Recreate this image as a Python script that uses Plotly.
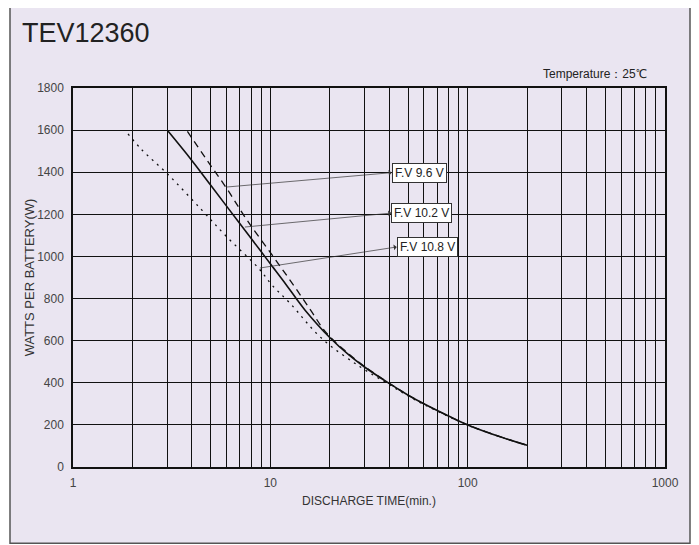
import plotly.graph_objects as go
import math

# ---- data ----
t_96 = [3.8, 4.76, 6.0, 7.6, 10.35, 13.1, 16, 19.3, 25, 30, 40, 50, 60, 80, 100, 150, 200]
w_96 = [1594, 1459, 1324, 1174, 999, 864, 745, 635, 537, 478, 398, 341, 300, 242, 200, 140, 103]

t_102 = [3, 4, 5, 6, 7, 8, 9, 10, 12, 13.6, 15, 20, 25, 30, 40, 50, 60, 80, 100, 150, 200]
w_102 = [1600, 1456, 1337, 1239, 1157, 1085, 1022, 965, 867, 797, 745, 615, 532, 475, 397, 341, 300, 242, 200, 140, 103]

t_108 = [1.9, 2.23, 3.04, 4.49, 6.0, 8.7, 10.2, 12.6, 18.2, 28.5, 40, 50, 60, 80, 100, 150, 200]
w_108 = [1582, 1507, 1388, 1221, 1094, 945, 864, 777, 611, 476, 392, 337, 297, 240, 199, 140, 103]

labels = ["F.V 9.6 V", "F.V 10.2 V", "F.V 10.8 V"]
label_from_t = [5.9, 7.3, 8.7]          # arrow tail on curve (min)
label_from_w = [1329, 1139, 944]        # arrow tail on curve (W)
label_to_t = [41.2, 41.0, 43.7]         # arrow head at box (min)
label_to_w = [1398, 1206, 1045]         # arrow head at box (W)

x_ticks = [d * m for d in (1, 10, 100) for m in range(1, 10)] + [1000]
x_ticktext = [str(v) if v in (1, 10, 100, 1000) else "" for v in x_ticks]
y_ticks = list(range(0, 1801, 200))

# ---- layout helpers (page has an 8px body margin) ----
OFF = 8
W, H = 699 - OFF, 545 - OFF
L, T, PW, PH = 73 - OFF, 88 - OFF, 592, 378.7
R = W - L - PW
B = H - T - PH


def px(xw):
    return (xw - OFF - L) / PW


def py(yw):
    return (T + PH - (yw - OFF)) / PH


bg = "#EAE5F1"
FONT = "Liberation Sans, Arial, Helvetica"

fig = go.Figure()
fig.add_trace(go.Scatter(x=t_108, y=w_108, mode="lines", line=dict(color="#111", width=1.3, dash="2px,5px"),
                         line_shape="spline", showlegend=False))
fig.add_trace(go.Scatter(x=t_96, y=w_96, mode="lines", line=dict(color="#111", width=1.3, dash="7px,5px"),
                         line_shape="spline", showlegend=False))
fig.add_trace(go.Scatter(x=t_102, y=w_102, mode="lines", line=dict(color="#111", width=1.6),
                         line_shape="spline", showlegend=False))

for lab, ft, fw, tt, tw in zip(labels, label_from_t, label_from_w, label_to_t, label_to_w):
    fig.add_annotation(x=math.log10(tt), y=tw, ax=math.log10(ft), ay=fw, xref="x", yref="y",
                       axref="x", ayref="y", text="", showarrow=True, arrowhead=1, arrowsize=1.4,
                       arrowwidth=0.7, arrowcolor="#333")
    fig.add_annotation(x=math.log10(tt), y=tw, xref="x", yref="y", text=lab, showarrow=False,
                       xanchor="left", yanchor="middle", bgcolor="white", bordercolor="#333",
                       borderwidth=1, borderpad=2, font=dict(family=FONT, size=12, color="#222"))

# card frame
fig.add_shape(type="rect", xref="paper", yref="paper", layer="below",
              x0=px(10), x1=px(690), y0=py(543), y1=py(5),
              fillcolor=bg, line=dict(color="#555", width=1.5))

fig.add_annotation(xref="paper", yref="paper", x=px(20), y=py(33), text="TEV12360",
                   showarrow=False, xanchor="left", yanchor="middle",
                   font=dict(family=FONT, size=27, color="#222"))
fig.add_annotation(xref="paper", yref="paper", x=px(649), y=py(74),
                   text="Temperature：25℃", showarrow=False, xanchor="right", yanchor="middle",
                   font=dict(family=FONT, size=12, color="#222"))

fig.update_layout(
    width=W, height=H,
    margin=dict(l=L, r=R, t=T, b=B, autoexpand=False),
    paper_bgcolor="white", plot_bgcolor=bg,
    font=dict(family=FONT, size=12, color="#333"),
    xaxis=dict(type="log", range=[0, 3], tickvals=x_ticks, ticktext=x_ticktext,
               showgrid=True, gridcolor="#111", gridwidth=1, ticks="", zeroline=False,
               showline=True, linecolor="#111", linewidth=1.5, mirror=True, automargin=False,
               tickfont=dict(size=12, color="#444"), ticklabelstandoff=4,
               title=dict(text="DISCHARGE TIME(min.)", standoff=7, font=dict(size=12, color="#333"))),
    yaxis=dict(range=[0, 1800], tickvals=y_ticks, showgrid=True, gridcolor="#111", gridwidth=1,
               ticks="", zeroline=False, showline=True, linecolor="#111", linewidth=1.5, mirror=True,
               automargin=False, tickfont=dict(size=12, color="#444"), ticklabelstandoff=5,
               title=dict(text="WATTS PER BATTERY(W)", standoff=0, font=dict(size=13, color="#333"))),
)

fig.write_html("out.html")
